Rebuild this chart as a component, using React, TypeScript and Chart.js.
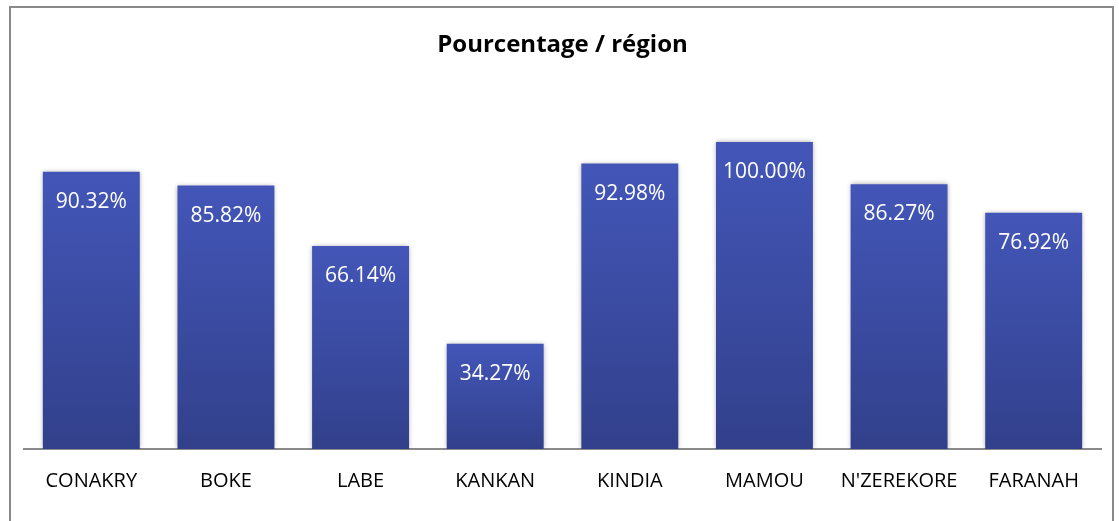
import React, { useEffect, useRef } from "react";
import { Chart, registerables } from "chart.js";

Chart.register(...registerables);

const categories = ["CONAKRY", "BOKE", "LABE", "KANKAN", "KINDIA", "MAMOU", "N'ZEREKORE", "FARANAH"];
const percentages = [90.32, 85.82, 66.14, 34.27, 92.98, 100.0, 86.27, 76.92];
const titleText = "Pourcentage / région";
const FONT = "'Open Sans', sans-serif";

const shadowPlugin = {
  id: "barShadow",
  beforeDatasetsDraw(chart: any) {
    const ctx = chart.ctx;
    ctx.save();
    ctx.shadowColor = "rgba(0,0,0,0.35)";
    ctx.shadowBlur = 5;
    ctx.shadowOffsetX = 0;
    ctx.shadowOffsetY = 0;
  },
  afterDatasetsDraw(chart: any) {
    chart.ctx.restore();
  },
};

const labelPlugin = {
  id: "barLabels",
  afterDatasetsDraw(chart: any) {
    const ctx = chart.ctx;
    const meta = chart.getDatasetMeta(0);
    ctx.save();
    ctx.fillStyle = "#ffffff";
    ctx.font = `21px ${FONT}`;
    ctx.textAlign = "center";
    ctx.textBaseline = "middle";
    meta.data.forEach((bar: any, i: number) => {
      const v = chart.data.datasets[0].data[i] as number;
      ctx.fillText(v.toFixed(2) + "%", bar.x, bar.y + 30);
    });
    ctx.restore();
  },
};

export default function App() {
  const ref = useRef<HTMLCanvasElement>(null);
  useEffect(() => {
    document.body.style.margin = "0";
    const chart = new Chart(ref.current!, {
      type: "bar",
      data: {
        labels: categories,
        datasets: [
          {
            label: "Pourcentage",
            data: percentages,
            categoryPercentage: 0.72,
            barPercentage: 1,
            backgroundColor: (c: any) => {
              const ch = c.chart;
              const y = ch.scales && ch.scales.y;
              const area = ch.chartArea;
              if (!y || !area || c.dataIndex === undefined) return "#3d4ea8";
              const top = y.getPixelForValue(c.raw as number);
              const bottom = y.getPixelForValue(0);
              if (!isFinite(top) || !isFinite(bottom) || top === bottom) return "#3d4ea8";
              const g = ch.ctx.createLinearGradient(0, top, 0, bottom);
              g.addColorStop(0, "#4356b8");
              g.addColorStop(1, "#32408b");
              return g;
            },
            borderWidth: 0,
          },
        ],
      },
      options: {
        animation: false,
        responsive: false,
        maintainAspectRatio: false,
        layout: { padding: { left: 24, right: 18, top: 0, bottom: 0 } },
        plugins: {
          legend: { display: false },
          tooltip: { enabled: false },
          title: {
            display: true,
            text: titleText,
            color: "#000000",
            font: { family: FONT, size: 24, weight: "bold", lineHeight: 1.2 },
            padding: { top: 31, bottom: 20.8 },
          },
        },
        scales: {
          x: {
            grid: { display: false, drawTicks: false },
            border: { display: true, color: "#8a8a8a", width: 2 },
            ticks: { color: "#000000", font: { family: FONT, size: 20 }, padding: 20, maxRotation: 0, autoSkip: false },
            afterFit: (scale: any) => {
              scale.height = 72;
            },
          },
          y: { display: false, min: 0, max: 120 },
        },
      },
      plugins: [shadowPlugin, labelPlugin],
    });
    return () => chart.destroy();
  }, []);
  return (
    <div style={{ position: "absolute", left: 0, top: 0, width: 1119, height: 521, background: "#fff", overflow: "hidden" }}>
      <canvas ref={ref} width={1119} height={521} style={{ position: "absolute", left: 0, top: 0 }} />
      <div
        style={{
          position: "absolute",
          left: 9,
          top: 6,
          width: 1105,
          height: 560,
          border: "2px solid #898989",
          boxSizing: "border-box",
          pointerEvents: "none",
        }}
      />
    </div>
  );
}
